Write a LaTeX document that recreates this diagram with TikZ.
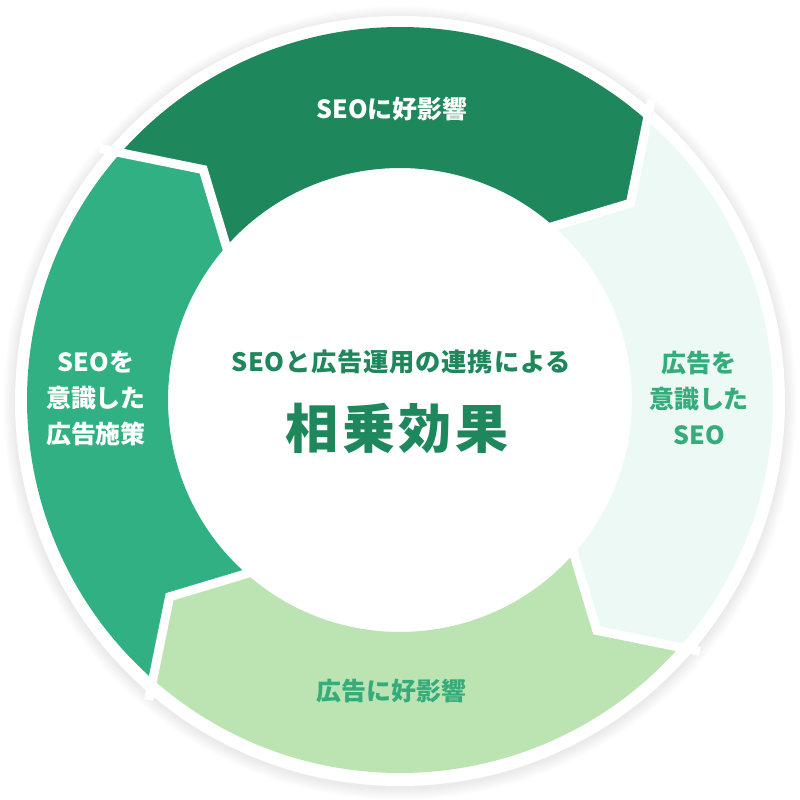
\documentclass[tikz,border=0pt]{standalone}
\usepackage{fontspec}
\setmainfont{Noto Sans CJK JP}
\usetikzlibrary{calc}
\definecolor{segdark}{HTML}{1F875C}
\definecolor{segmid}{HTML}{31B183}
\definecolor{segmint}{HTML}{EDF9F4}
\definecolor{seglight}{HTML}{BCE3B2}
\definecolor{txtmid}{HTML}{34AC7B}
\def\Ro{3.73}
\def\Ri{2.32}
\def\Rt{3.03}
\def\tipoff{8}
\newcommand\segshape[3]{%
  \fill[#1] (#2:\Ro) arc[start angle=#2, end angle=#3, radius=\Ro]
    -- ({#3-\tipoff}:\Rt) -- (#3:\Ri)
    arc[start angle=#3, end angle=#2, radius=\Ri]
    -- ({#2-\tipoff}:\Rt) -- cycle;}
\tikzset{
  lbl/.style={inner sep=0pt, font=\bfseries\fontsize{7.1}{10.24}\selectfont, align=center},
  gapline/.style={white, line width=0.09cm, line join=miter},
}
\begin{document}
\begin{tikzpicture}
\useasboundingbox (-4,-4) rectangle (4,4);
\fill[white] (-4,-4) rectangle (4,4);
% soft shadow
\foreach \i in {1,...,10}
  \fill[black, opacity=0.009] (0,-0.03) circle ({3.85+0.012*\i});
\fill[white] (0,-0.01) circle (3.85);
% segments
\segshape{segdark}{138.5}{48.5}
\segshape{segmint}{48.5}{-41.5}
\segshape{seglight}{-41.5}{-131.5}
\segshape{segmid}{228.5}{138.5}
% white gaps
\foreach \b in {138.5,48.5,-41.5,-131.5}{
  \coordinate (tp) at ({\b-\tipoff}:\Rt);
  \coordinate (oc) at (\b:\Ro);
  \coordinate (ic) at (\b:\Ri);
  \draw[gapline] ($(tp)!1.25!(oc)$) -- (tp) -- ($(tp)!1.25!(ic)$);
}
% labels
\node[lbl, text=white] (ltop) at (-0.08,2.91) {SEOに好影響};
\node[lbl, text=txtmid] (lbottom) at (-0.085,-2.91) {広告に好影響};
\node[lbl, text=white] (lleft) at (-3.04,0.02) {SEOを\\意識した\\広告施策};
\node[lbl, text=txtmid] (lright) at (2.99,0.02) {広告を\\意識した\\SEO};
\node[inner sep=0pt, text=segdark, font=\bfseries\fontsize{7.2}{8}\selectfont\addfontfeature{LetterSpace=3}] (sub) at (0.01,0.38) {SEOと広告運用の連携による};
\node[inner sep=0pt, text=segdark, font=\bfseries\fontsize{15.1}{17}\selectfont\addfontfeature{LetterSpace=7}] (big) at (-0.03,-0.28) {相乗効果};
\end{tikzpicture}
\end{document}
